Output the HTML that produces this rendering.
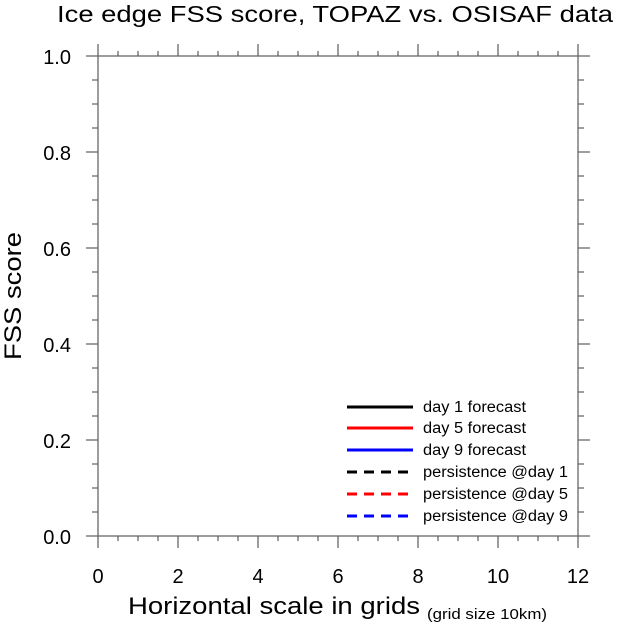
<!DOCTYPE html>
<html><head><style>body{margin:0;background:#fff}</style></head><body>
<svg width="617" height="625" xmlns="http://www.w3.org/2000/svg" font-family="Liberation Sans, sans-serif">
<rect width="617" height="625" fill="#fff"/>
<text x="57" y="22" font-size="23" textLength="556" lengthAdjust="spacingAndGlyphs">Ice edge FSS score, TOPAZ vs. OSISAF data</text>
<g stroke="#666" stroke-width="1.3" fill="none">
<rect x="98" y="56" width="480" height="480"/>
<path d="M98 536v12M178 536v12M258 536v12M338 536v12M418 536v12M498 536v12M578 536v12"/>
<path d="M118 536v5M138 536v5M158 536v5M198 536v5M218 536v5M238 536v5M278 536v5M298 536v5M318 536v5M358 536v5M378 536v5M398 536v5M438 536v5M458 536v5M478 536v5M518 536v5M538 536v5M558 536v5"/>
<path d="M98 56v-12M178 56v-12M258 56v-12M338 56v-12M418 56v-12M498 56v-12M578 56v-12"/>
<path d="M118 56v-5M138 56v-5M158 56v-5M198 56v-5M218 56v-5M238 56v-5M278 56v-5M298 56v-5M318 56v-5M358 56v-5M378 56v-5M398 56v-5M438 56v-5M458 56v-5M478 56v-5M518 56v-5M538 56v-5M558 56v-5"/>
<path d="M98 56h-12M98 152h-12M98 248h-12M98 344h-12M98 440h-12M98 536h-12M578 56h12M578 152h12M578 248h12M578 344h12M578 440h12M578 536h12"/>
<path d="M98 80h-6M98 104h-6M98 128h-6M98 176h-6M98 200h-6M98 224h-6M98 272h-6M98 296h-6M98 320h-6M98 368h-6M98 392h-6M98 416h-6M98 464h-6M98 488h-6M98 512h-6M578 80h6M578 104h6M578 128h6M578 176h6M578 200h6M578 224h6M578 272h6M578 296h6M578 320h6M578 368h6M578 392h6M578 416h6M578 464h6M578 488h6M578 512h6"/>
</g>
<g font-size="20" text-anchor="end">
<text x="71" y="64">1.0</text><text x="71" y="160">0.8</text><text x="71" y="256">0.6</text>
<text x="71" y="352">0.4</text><text x="71" y="448">0.2</text><text x="71" y="544">0.0</text>
</g>
<g font-size="20" text-anchor="middle">
<text x="98" y="583">0</text><text x="178" y="583">2</text><text x="258" y="583">4</text><text x="338" y="583">6</text>
<text x="418" y="583">8</text><text x="498" y="583">10</text><text x="578" y="583">12</text>
</g>
<text x="128" y="614" font-size="24" textLength="292" lengthAdjust="spacingAndGlyphs">Horizontal scale in grids</text>
<text x="427" y="619" font-size="15" textLength="120" lengthAdjust="spacingAndGlyphs">(grid size 10km)</text>
<text transform="translate(21,360) rotate(-90)" font-size="24" textLength="128" lengthAdjust="spacingAndGlyphs">FSS score</text>
<g stroke-width="3">
<path d="M347 407h66" stroke="#000"/><path d="M347 428h66" stroke="#f00"/><path d="M347 450h66" stroke="#00f"/>
<path d="M347 472h62" stroke="#000" stroke-dasharray="10 7"/><path d="M347 494h62" stroke="#f00" stroke-dasharray="10 7"/><path d="M347 516h62" stroke="#00f" stroke-dasharray="10 7"/>
</g>
<g font-size="15.5">
<text x="423" y="412" textLength="103" lengthAdjust="spacingAndGlyphs">day 1 forecast</text>
<text x="423" y="433" textLength="103" lengthAdjust="spacingAndGlyphs">day 5 forecast</text>
<text x="423" y="455" textLength="103" lengthAdjust="spacingAndGlyphs">day 9 forecast</text>
<text x="423" y="477" textLength="145" lengthAdjust="spacingAndGlyphs">persistence @day 1</text>
<text x="423" y="499" textLength="145" lengthAdjust="spacingAndGlyphs">persistence @day 5</text>
<text x="423" y="521" textLength="145" lengthAdjust="spacingAndGlyphs">persistence @day 9</text>
</g>
</svg>
</body></html>
